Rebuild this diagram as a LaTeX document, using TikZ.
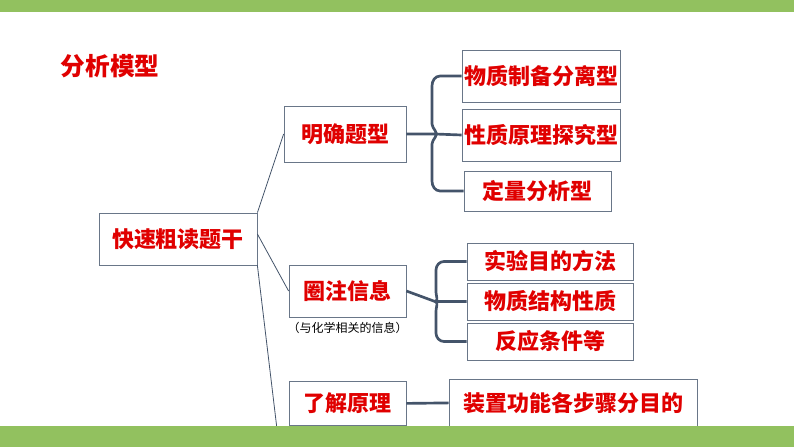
\documentclass[tikz,border=0pt]{standalone}
\usepackage{fontspec}
\setmainfont{Noto Sans CJK SC}
\newfontfamily\cjkb{Noto Sans CJK SC Black}
\usetikzlibrary{positioning}
\definecolor{barg}{HTML}{92C15F}
\definecolor{txtred}{HTML}{E00000}
\definecolor{linec}{HTML}{44546A}
\tikzset{
 bx/.style={draw=linec!80,line width=0.6pt,fill=white,text=txtred,font=\cjkb\fontsize{16.5}{19}\selectfont,inner sep=0pt},
 br/.style={draw=linec,line width=2pt},
 ln/.style={draw=linec,line width=0.6pt}
}
\begin{document}
\begin{tikzpicture}[x=0.75pt,y=-0.75pt]
\path[fill=white] (0,0) rectangle (794,447);
\fill[barg] (0,0) rectangle (794,12);
\node[text=txtred,font=\cjkb\fontsize{18.5}{20}\selectfont,anchor=west] (title) at (56,66) {分析模型};
\node[bx,minimum width=158*0.75pt,minimum height=52*0.75pt] (main) at (178,239) {快速粗读题干};
\node[bx,minimum width=122*0.75pt,minimum height=56*0.75pt] (a) at (345,134) {明确题型};
\node[bx,minimum width=117*0.75pt,minimum height=52*0.75pt] (b) at (347.5,291) {圈注信息};
\node[font=\fontsize{9}{10}\selectfont,anchor=north] (bc) at (b.south) {（与化学相关的信息）};
\node[bx,minimum width=117*0.75pt,minimum height=44*0.75pt,anchor=north] (c) at (347.5,381) {了解原理};
\node[bx,minimum width=158*0.75pt,minimum height=52*0.75pt] (a1) at (541,76) {物质制备分离型};
\node[bx,minimum width=158*0.75pt,minimum height=52*0.75pt] (a2) at (541,135) {性质原理探究型};
\node[bx,minimum width=147*0.75pt,minimum height=40*0.75pt] (a3) at (537.5,191) {定量分析型};
\node[bx,minimum width=166*0.75pt,minimum height=37*0.75pt] (b1) at (550,261.5) {实验目的方法};
\node[bx,minimum width=166*0.75pt,minimum height=37*0.75pt] (b2) at (550,301.5) {物质结构性质};
\node[bx,minimum width=166*0.75pt,minimum height=37*0.75pt] (b3) at (550,341.5) {反应条件等};
\node[bx,minimum width=248*0.75pt,minimum height=47*0.75pt,anchor=north] (c1) at (573,379) {装置功能各步骤分目的};
\draw[ln] (main.north east) -- (a.west);
\draw[ln] ([yshift=5*0.75pt]main.east) -- (b.west);
\draw[ln] (main.south east) -- ([xshift=-12*0.75pt]c.south west);
\draw[br] (c.east) -- (c1.west);
\coordinate (ja) at (435,134);
\draw[br] (a.east) -- (ja) -- (a2.west);
\draw[br] (a1.west) -- (440,76) to[out=180,in=90] (432,86) -- (432,124) to[out=-90,in=0] (ja);
\draw[br] (a3.west) -- (440,191) to[out=180,in=-90] (432,181) -- (432,144) to[out=90,in=0] (ja);
\coordinate (jb) at (435,301.5);
\draw[br] (b.east) -- (jb) -- (b2.west);
\draw[br] (b1.west) -- (444,261.5) to[out=180,in=90] (436,270) -- (436,292) to[out=-90,in=0] (jb);
\draw[br] (b3.west) -- (444,341.5) to[out=180,in=-90] (436,333) -- (436,311) to[out=90,in=0] (jb);
\fill[barg] (0,426) rectangle (794,447);
\end{tikzpicture}
\end{document}
